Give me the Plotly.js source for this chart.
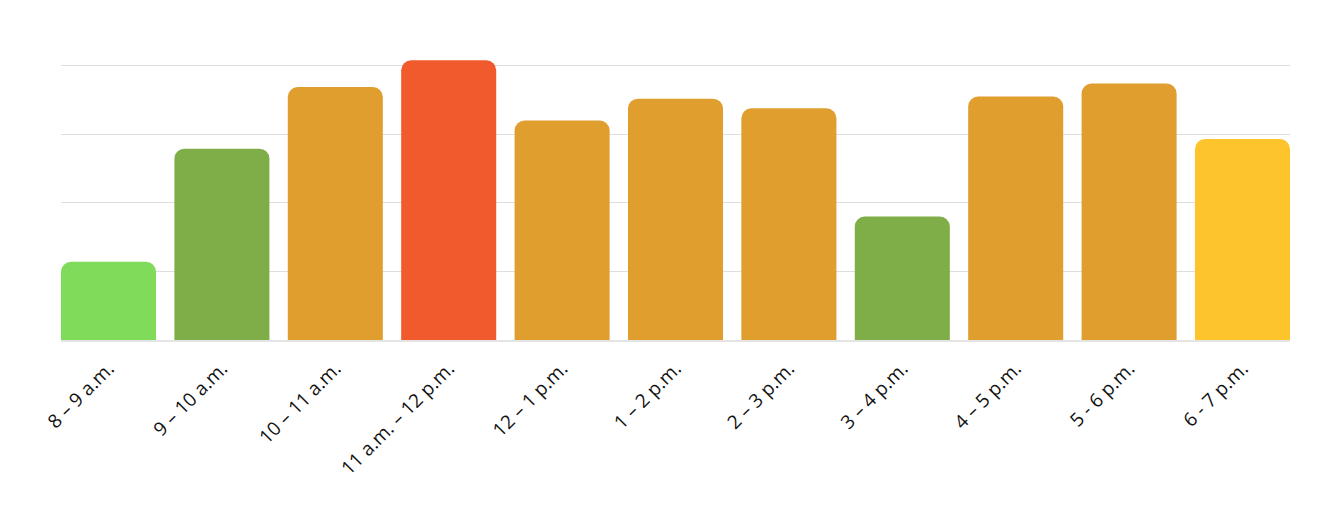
<!DOCTYPE html>
<html>
<head>
<meta charset="utf-8">
<script src="https://cdn.plot.ly/plotly-3.0.1.min.js"></script>
<style>
  html, body { margin: 0; padding: 0; background: #fff; }
  #chart { width: 1329px; height: 505px; }
</style>
</head>
<body>
<div id="chart"></div>
<script>
// time slots and how busy each one is (gridline = 1 unit)
const slots = ["8 – 9 a.m.", "9 – 10 a.m.", "10 – 11 a.m.", "11 a.m. – 12 p.m.", "12 – 1 p.m.",
  "1 – 2 p.m.", "2 – 3 p.m.", "3 – 4 p.m.", "4 – 5 p.m.", "5 - 6 p.m.", "6 - 7 p.m."];
const busy = [1.14, 2.79, 3.69, 4.08, 3.20, 3.52, 3.38, 1.80, 3.55, 3.74, 2.93];
const colors = ["#80db5a", "#7fad47", "#df9e2e", "#f05a2c", "#df9e2e",
  "#df9e2e", "#df9e2e", "#7fad47", "#df9e2e", "#df9e2e", "#fdc42b"];

const gap = 0.162;

const data = [{
  type: "bar",
  x: slots,
  y: busy,
  marker: { color: colors, line: { width: 0 } },
  hoverinfo: "skip"
}];

const layout = {
  width: 1329,
  height: 505,
  margin: { l: 61, r: 39, t: 52, b: 165 },
  paper_bgcolor: "#ffffff",
  plot_bgcolor: "#ffffff",
  bargap: gap,
  barcornerradius: 10,
  showlegend: false,
  font: { family: "Open Sans, sans-serif", color: "#111" },
  xaxis: {
    type: "category",
    range: [-0.5 + gap / 2, slots.length - 0.5 - gap / 2],
    tickangle: -45,
    tickfont: { size: 19, color: "#111" },
    ticklabelstandoff: 8,
    showgrid: false,
    showline: true,
    linecolor: "#e4e4e4",
    linewidth: 2,
    ticks: "",
    fixedrange: true
  },
  yaxis: {
    range: [0, 4.2],
    dtick: 1,
    showticklabels: false,
    gridcolor: "#dedede",
    gridwidth: 1,
    zeroline: false,
    fixedrange: true
  }
};

Plotly.newPlot("chart", data, layout, { displayModeBar: false, staticPlot: true });
</script>
</body>
</html>
